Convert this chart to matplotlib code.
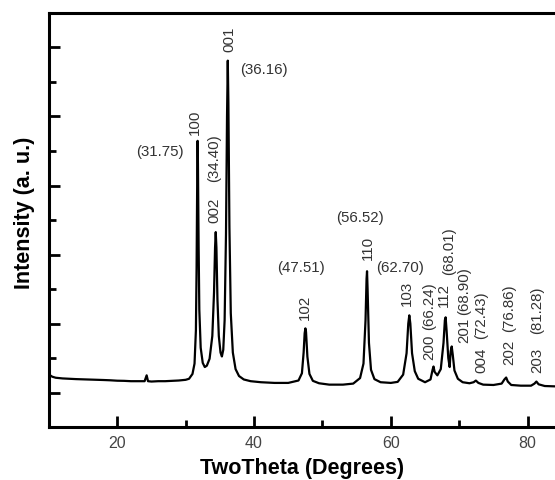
import matplotlib
matplotlib.use('Agg')
import matplotlib.pyplot as plt
from matplotlib.ticker import MultipleLocator

plt.rcParams['font.family'] = ['Liberation Sans', 'DejaVu Sans']

two_theta = [10.0, 10.5, 11.0, 12.0, 13.0, 14.0, 15.0, 16.0, 17.0, 18.0, 19.0, 20.0,
             21.0, 22.0, 23.0, 24.0, 24.3, 24.5, 25.0, 26.0, 27.0, 28.0, 29.0,
             30.0, 30.5, 31.0, 31.3, 31.5, 31.6, 31.7, 31.75, 31.8, 31.9, 32.0,
             32.2, 32.5, 32.8, 33.1, 33.5, 33.9, 34.15, 34.3, 34.4, 34.5, 34.65,
             34.85, 35.1, 35.3, 35.5, 35.7, 35.9, 36.05, 36.16, 36.25, 36.4,
             36.6, 36.9, 37.3, 37.8, 38.5, 39.5, 41.0, 43.0, 45.0, 46.5, 47.0,
             47.25, 47.4, 47.51, 47.6, 47.8, 48.1, 48.6, 49.5, 51.0, 53.0, 54.5,
             55.5, 56.0, 56.3, 56.45, 56.52, 56.6, 56.8, 57.1, 57.6, 58.5, 60.0,
             61.0, 61.8, 62.3, 62.55, 62.7, 62.85, 63.1, 63.5, 64.0, 65.0, 65.8,
             66.1, 66.24, 66.4, 66.8, 67.3, 67.7, 67.9, 68.01, 68.15, 68.4,
             68.6, 68.75, 68.9, 69.05, 69.3, 69.8, 70.5, 71.5, 72.1, 72.43,
             72.8, 73.5, 75.0, 76.2, 76.6, 76.86, 77.1, 77.6, 79.0, 80.5, 81.0,
             81.28, 81.6, 82.5, 84.0]
intensity = [262, 230, 215, 205, 200, 195, 192, 188, 185, 182, 178, 172,
             170, 165, 165, 165, 250, 165, 160, 165, 165, 170, 175,
             185, 200, 270, 420, 900, 1800, 3200, 3647, 3300, 2100, 1200,
             650, 430, 370, 390, 490, 820, 1450, 2100, 2325, 2100, 1350,
             820, 580, 523, 620, 1050, 2300, 4000, 4809, 4200, 2400,
             1150, 580, 340, 240, 190, 165, 150, 140, 140, 175, 280,
             580, 860, 930, 880, 520, 270, 170, 135, 115, 115, 130,
             210, 420, 1050, 1650, 1758, 1500, 720, 330, 195, 150, 140,
             155, 260, 570, 1000, 1119, 1000, 570, 310, 200, 150, 190,
             330, 378, 300, 250, 340, 720, 1050, 1090, 900, 500,
             370, 600, 668, 550, 320, 200, 150, 135, 150, 174,
             140, 115, 110, 130, 190, 218, 160, 110, 100, 100, 130,
             160, 120, 95, 90]

# peak annotations
labels = ['(31.75)', '100', '(34.40)', '002', '001', '(36.16)',
          '(47.51)', '102', '(56.52)', '110', '(62.70)', '103',
          '200', '(66.24)', '112', '(68.01)', '201', '(68.90)',
          '004', '(72.43)', '202', '(76.86)', '203', '(81.28)']
label_x = [26.2, 31.3, 34.2, 34.2, 36.4, 41.4,
           46.8, 47.4, 55.5, 56.6, 61.4, 62.4,
           65.6, 65.6, 67.8, 68.5, 70.7, 70.7,
           73.2, 73.2, 77.3, 77.3, 81.4, 81.4]
label_y = [3502, 3923, 3415, 2659, 5129, 4693,
           1816, 1250, 2543, 2107, 1816, 1453,
           668, 1264, 1424, 2065, 920, 1480,
           479, 1133, 596, 1235, 479, 1206]
label_rot = [0, 90, 90, 90, 90, 0,
             0, 90, 0, 90, 0, 90,
             90, 90, 90, 90, 90, 90,
             90, 90, 90, 90, 90, 90]

fig = plt.figure(figsize=(5.55, 4.81), dpi=100)
ax = fig.add_axes([0.088, 0.110, 0.912, 0.861])

ax.plot(two_theta, intensity, color='black', lw=1.6)

for t, x, y, r in zip(labels, label_x, label_y, label_rot):
    ax.text(x, y, t, rotation=r, ha='center', va='center',
            fontsize=10.8, color='#333333')

ax.set_xlim(10, 84)
ax.set_ylim(-500, 5500)
ax.xaxis.set_major_locator(MultipleLocator(20))
ax.xaxis.set_minor_locator(MultipleLocator(10))
ax.yaxis.set_major_locator(MultipleLocator(1000))
ax.yaxis.set_minor_locator(MultipleLocator(500))
ax.set_yticklabels([])

ax.tick_params(which='both', direction='in', width=2, top=False, right=False)
ax.tick_params(which='major', length=8)
ax.tick_params(which='minor', length=5)
ax.tick_params(axis='x', labelsize=11.5, labelcolor='#444444', pad=6)

for s in ['left', 'bottom', 'top']:
    ax.spines[s].set_linewidth(2.2)
ax.spines['right'].set_visible(False)

ax.set_xlabel('TwoTheta (Degrees)', fontsize=15.5, fontweight='bold')
ax.set_ylabel('Intensity (a. u.)', fontsize=15.5, fontweight='bold')
ax.xaxis.set_label_coords(0.5, -0.073)
ax.yaxis.set_label_coords(-0.028, 0.52)

plt.savefig('out.png', dpi=100)
